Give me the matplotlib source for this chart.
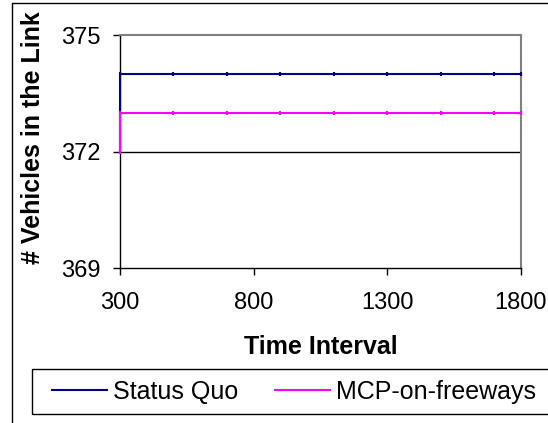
import matplotlib
matplotlib.use("Agg")
import matplotlib.pyplot as plt
from matplotlib.patches import Rectangle
from matplotlib.lines import Line2D

plt.rcParams['font.family'] = ['Liberation Sans', 'DejaVu Sans']

# Data
time_interval = [300, 300, 500, 700, 900, 1100, 1300, 1500, 1700, 1800]
status_quo = [372, 374, 374, 374, 374, 374, 374, 374, 374, 374]
mcp_on_freeways = [372, 373, 373, 373, 373, 373, 373, 373, 373, 373]
series_names = ["Status Quo", "MCP-on-freeways"]
x_ticks = [300, 800, 1300, 1800]
y_ticks = [369, 372, 375]

W, H = 548, 423
fig = plt.figure(figsize=(W / 100, H / 100), dpi=100)
fig.patch.set_facecolor('white')

# outer chart border (cut on right/bottom)
fig.add_artist(Rectangle((12 / W, -0.05), 1.2, 1 - 3 / H + 0.05, transform=fig.transFigure,
                         fill=False, edgecolor='black', linewidth=1.0))

ax = fig.add_axes([120 / W, 1 - 268 / H, (521 - 120) / W, (268 - 35) / H])
ax.set_facecolor('white')

l1, = ax.plot(time_interval, status_quo, color='#000080', linewidth=1.5,
              marker='|', markersize=3.5, markeredgewidth=1.5, label=series_names[0],
              clip_on=False, zorder=3)
l2, = ax.plot(time_interval, mcp_on_freeways, color='#FF00FF', linewidth=1.5,
              marker='|', markersize=3.5, markeredgewidth=1.5, label=series_names[1],
              clip_on=False, zorder=4)

ax.set_xlim(300, 1800)
ax.set_ylim(369, 375)
ax.set_xticks(x_ticks)
ax.set_yticks(y_ticks)
ax.axhline(372, color='black', linewidth=1.0, zorder=0.5)

for s in ['left', 'bottom']:
    ax.spines[s].set_color('black')
    ax.spines[s].set_linewidth(1.0)
for s in ['top', 'right']:
    ax.spines[s].set_color('#808080')
    ax.spines[s].set_linewidth(1.5)

ax.tick_params(axis='both', direction='out', length=5, width=1.0, labelsize=17, color='black')
ax.tick_params(axis='y', pad=9)
ax.tick_params(axis='x', pad=12)

ax.set_xlabel("Time Interval", fontsize=18, fontweight='bold', va='center')
ax.xaxis.set_label_coords(0.5, (268 - 347) / 233)
ax.set_ylabel("# Vehicles in the Link", fontsize=18, fontweight='bold', va='center', ha='center')
ax.yaxis.set_label_coords((33 - 120) / 401, (268 - 138) / 233)

# legend box
fig.add_artist(Rectangle((32 / W, 1 - 414 / H), 1.0, (414 - 369) / H, transform=fig.transFigure,
                         fill=False, edgecolor='black', linewidth=1.0))
h1 = Line2D([], [], color='#000080', linewidth=1.5)
h2 = Line2D([], [], color='#FF00FF', linewidth=1.5)
fig.legend([h1, h2], series_names, loc='center left', bbox_to_anchor=(52 / W, 1 - 392 / H),
           ncol=2, frameon=False, fontsize=18, borderpad=0, borderaxespad=0,
           handlelength=2.2, handletextpad=0.25, columnspacing=1.45)

fig.savefig("out.png", dpi=100, facecolor='white')
